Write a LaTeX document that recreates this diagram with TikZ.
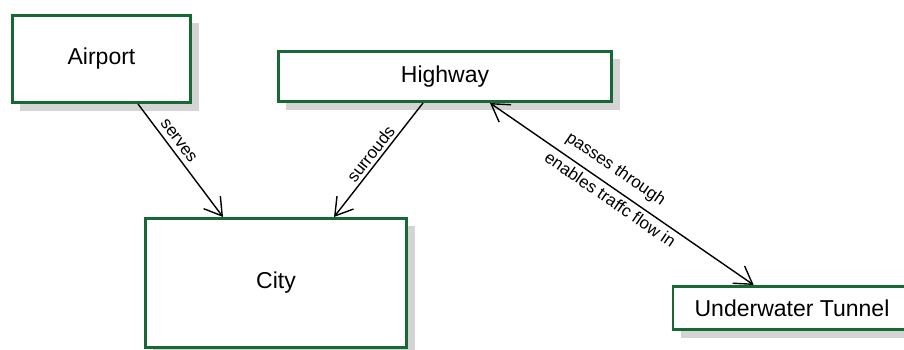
\documentclass[tikz,border=0pt]{standalone}
\usepackage{fontspec}
\setmainfont{Liberation Sans}
\usetikzlibrary{arrows.meta,shadows}
\definecolor{boxgreen}{RGB}{22,104,52}
\definecolor{shadowgray}{RGB}{212,212,212}
\tikzset{
  concept/.style={draw=boxgreen, line width=2.6pt, fill=white, inner sep=0pt,
    font=\fontsize{23}{27}\selectfont,
    drop shadow={shadow xshift=8pt, shadow yshift=-8pt, fill=shadowgray, opacity=1}},
  link/.style={draw=black, line width=1.4pt},
  barb/.tip={Straight Barb[length=17pt,width=21pt,line width=1.4pt]},
  lbl/.style={font=\fontsize{17}{20}\selectfont, sloped, inner sep=2pt}
}
\begin{document}
\begin{tikzpicture}[x=1pt,y=-1pt]
\useasboundingbox (0,0) rectangle (904,350);
\clip (0,0) rectangle (904,350);
\fill[white] (0,0) rectangle (904,350);
\node[concept, minimum width=178.4pt, minimum height=87.4pt] (air) at (101.5,59) {Airport};
\node[concept, minimum width=333.4pt, minimum height=50.4pt] (hw) at (445,76.5) {Highway};
\node[concept, minimum width=261.4pt, minimum height=129.4pt] (city) at (276,283) {City};
\node[concept, minimum width=300pt, minimum height=43.4pt] (tun) at (823,308) {\hspace*{-62pt}Underwater Tunnel};
\draw[link, -barb] ([xshift=-54pt]air.south east) -- node[lbl, above=3pt, pos=0.38] {serves} ([xshift=79pt]city.north west);
\draw[link, -barb] ([xshift=146pt]hw.south west) -- node[lbl, above=1pt, pos=0.5] {surrouds} ([xshift=190pt]city.north west);
\draw[link, barb-barb] ([xshift=213pt]hw.south west) --
  node[lbl, above=6pt, pos=0.44] {passes through}
  node[lbl, below=2pt, pos=0.48] {enables traffc flow in}
  ([xshift=82pt]tun.north west);
\end{tikzpicture}
\end{document}
